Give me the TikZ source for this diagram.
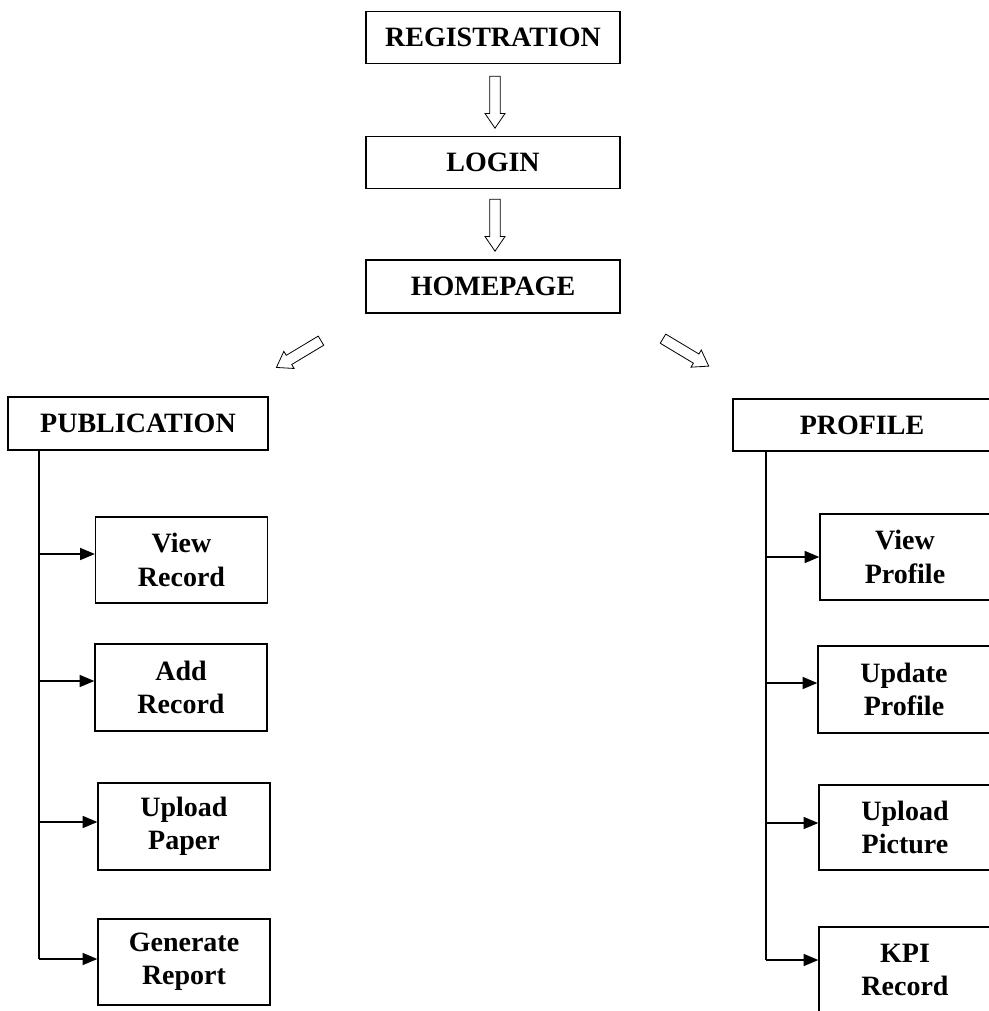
\documentclass[tikz,border=0pt]{standalone}
\usepackage{fontspec}
\setmainfont{Liberation Serif}
\usetikzlibrary{arrows.meta,calc}
\newcommand\hollowarrow[3]{%
  \begin{scope}[shift={#1}, rotate=#2, x=1pt, y=1pt]
    \draw[hollow] (0,-4) -- ({#3-11},-4) -- ({#3-11},-7.5) -- (#3,0) -- ({#3-11},7.5) -- ({#3-11},4) -- (0,4) -- cycle;
  \end{scope}}
\begin{document}
\begin{tikzpicture}[x=0.75pt,y=-0.75pt,
  box/.style={draw, line width=1pt, inner sep=0pt, font=\bfseries\fontsize{21}{25}\selectfont, align=center},
  topbox/.style={box, minimum width=254*0.75pt, minimum height=52*0.75pt},
  subbox/.style={box, minimum width=172*0.75pt, minimum height=86*0.75pt},
  branch/.style={line width=1pt, -{Triangle[length=11pt,width=9pt]}},
  trunk/.style={line width=1pt},
  hollow/.style={draw, line width=0.6pt, line join=miter, fill=white}]
\useasboundingbox (0,0) rectangle (989,1011);
\clip (0,0) rectangle (989,1011);

% top chain
\node[topbox] (reg) at (493,37.5) {REGISTRATION};
\node[topbox] (login) at (493,162.5) {LOGIN};
\node[topbox, minimum height=53*0.75pt] (home) at (493,286.5) {HOMEPAGE};

\hollowarrow{($(reg.south)+(2,12)$)}{-90}{39}
\hollowarrow{($(login.south)+(2,10)$)}{-90}{39}
\hollowarrow{($(home.south)+(-172,27)$)}{211}{39}
\hollowarrow{($(home.south)+(170,25)$)}{-31}{40}

% main branches
\node[box, minimum width=260*0.75pt, minimum height=53*0.75pt] (pub) at (138,423.5) {PUBLICATION};
\node[box, minimum width=258*0.75pt, minimum height=52*0.75pt] (prof) at (862,425) {PROFILE};

% publication sub-boxes
\node[subbox] (vr) at (181.5,560) {View\\Record};
\node[subbox, minimum height=87*0.75pt] (ar) at (181,687.5) {Add\\Record};
\node[subbox, minimum height=87*0.75pt] (up) at (184,826.5) {Upload\\Paper};
\node[subbox] (gr) at (184,962) {Generate\\Report};

% profile sub-boxes
\node[subbox, minimum width=170*0.75pt] (vp) at (905,557) {View\\Profile};
\node[subbox, minimum height=87*0.75pt] (upf) at (904,689.5) {Update\\Profile};
\node[subbox, minimum height=85*0.75pt] (upic) at (905,827.5) {Upload\\Picture};
\node[subbox] (kpi) at (905,970) {KPI\\Record};

% left trunk
\coordinate (L1) at (39,554);
\coordinate (L2) at (39,681);
\coordinate (L3) at (39,822);
\coordinate (L4) at (39,959);
\draw[trunk] (pub.south -| L1) -- (L4);
\draw[branch] (L1) -- (L1 -| vr.west);
\draw[branch] (L2) -- (L2 -| ar.west);
\draw[branch] (L3) -- (L3 -| up.west);
\draw[branch] (L4) -- (L4 -| gr.west);

% right trunk
\coordinate (R1) at (766,557);
\coordinate (R2) at (766,683);
\coordinate (R3) at (766,823);
\coordinate (R4) at (766,960);
\draw[trunk] (prof.south -| R1) -- (R4);
\draw[branch] (R1) -- (R1 -| vp.west);
\draw[branch] (R2) -- (R2 -| upf.west);
\draw[branch] (R3) -- (R3 -| upic.west);
\draw[branch] (R4) -- (R4 -| kpi.west);
\end{tikzpicture}
\end{document}
